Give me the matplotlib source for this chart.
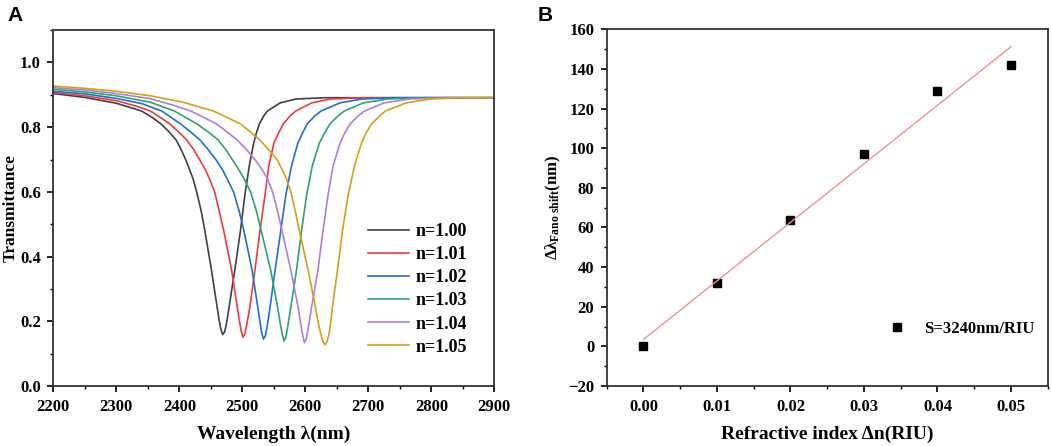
import numpy as np
import matplotlib
matplotlib.use("Agg")
import matplotlib.pyplot as plt
from matplotlib.ticker import MultipleLocator

plt.rcParams["font.family"] = ["Liberation Serif", "DejaVu Serif"]
plt.rcParams["font.weight"] = "bold"
plt.rcParams["mathtext.fontset"] = "custom"
plt.rcParams["mathtext.rm"] = "Liberation Serif:bold"
plt.rcParams["mathtext.it"] = "Liberation Serif:bold"
plt.rcParams["mathtext.bf"] = "Liberation Serif:bold"

# panel A: transmission spectra
lam_100 = [2200, 2250, 2300, 2340, 2357, 2371, 2384, 2395, 2403, 2410, 2416, 2421.8, 2427.5, 2434.8, 2440.5, 2451, 2460,
           2463, 2466, 2469, 2472, 2475,
           2479, 2488, 2497, 2504, 2511, 2518, 2522, 2527, 2534, 2540, 2560, 2585, 2630, 2900]
t_100 = [0.904, 0.892, 0.874, 0.85, 0.83, 0.81, 0.785, 0.76, 0.73, 0.70, 0.67, 0.64, 0.60, 0.54, 0.48, 0.358, 0.244,
         0.205, 0.175, 0.159, 0.168, 0.195,
         0.244, 0.358, 0.48, 0.59, 0.68, 0.75, 0.78, 0.81, 0.835, 0.85, 0.875, 0.887, 0.891, 0.891]

lam_101 = [2200, 2250, 2300, 2330, 2354, 2370, 2385, 2399, 2412, 2423, 2432, 2441, 2448, 2456, 2463.5, 2470.5, 2483, 2492,
           2495, 2498, 2501, 2504, 2507,
           2512, 2520, 2528, 2536, 2542, 2550, 2557, 2565, 2576, 2585, 2610, 2640, 2690, 2900]
t_101 = [0.907, 0.897, 0.882, 0.866, 0.85, 0.83, 0.81, 0.785, 0.76, 0.73, 0.70, 0.67, 0.64, 0.60, 0.54, 0.48, 0.358, 0.244,
         0.205, 0.172, 0.151, 0.16, 0.19,
         0.244, 0.358, 0.48, 0.59, 0.68, 0.75, 0.78, 0.81, 0.835, 0.85, 0.875, 0.887, 0.891, 0.891]

lam_102 = [2200, 2250, 2300, 2340, 2372, 2387, 2402, 2418, 2433, 2446, 2458, 2468, 2476, 2486, 2495, 2502.5, 2515.5, 2524.5,
           2527.5, 2530.5, 2533.5, 2536.5, 2539.5,
           2544, 2552, 2561, 2569, 2578, 2588, 2595, 2603, 2615, 2625, 2655, 2690, 2740, 2900]
t_102 = [0.911, 0.903, 0.889, 0.873, 0.85, 0.83, 0.81, 0.785, 0.76, 0.73, 0.70, 0.67, 0.64, 0.60, 0.54, 0.48, 0.358, 0.244,
         0.205, 0.167, 0.145, 0.155, 0.185,
         0.244, 0.358, 0.48, 0.59, 0.68, 0.75, 0.78, 0.81, 0.835, 0.85, 0.875, 0.887, 0.891, 0.891]

lam_103 = [2200, 2250, 2300, 2354, 2392, 2410, 2428, 2446, 2462, 2474, 2484, 2494, 2503, 2513, 2522.5, 2530, 2545, 2556,
           2560, 2563, 2566, 2569, 2572,
           2577, 2586, 2594, 2602, 2611, 2622, 2630, 2639, 2652, 2662, 2692, 2730, 2790, 2900]
t_103 = [0.917, 0.909, 0.897, 0.877, 0.85, 0.83, 0.81, 0.785, 0.76, 0.73, 0.70, 0.67, 0.64, 0.60, 0.54, 0.48, 0.358, 0.244,
         0.195, 0.165, 0.139, 0.15, 0.183,
         0.244, 0.358, 0.48, 0.59, 0.68, 0.75, 0.78, 0.81, 0.835, 0.85, 0.875, 0.887, 0.891, 0.891]

lam_104 = [2200, 2250, 2300, 2354, 2390, 2418, 2439, 2459, 2476, 2492, 2507, 2520, 2531, 2540, 2548, 2556, 2563, 2577, 2588.5,
           2592.5, 2595.5, 2598.5, 2601.5, 2604.5,
           2610, 2620, 2628, 2636, 2644, 2655, 2662, 2671, 2684, 2694, 2725, 2765, 2830, 2900]
t_104 = [0.922, 0.915, 0.904, 0.888, 0.868, 0.85, 0.83, 0.81, 0.785, 0.76, 0.73, 0.70, 0.67, 0.64, 0.60, 0.54, 0.48, 0.358, 0.244,
         0.195, 0.16, 0.134, 0.145, 0.178,
         0.244, 0.358, 0.48, 0.59, 0.68, 0.75, 0.78, 0.81, 0.835, 0.85, 0.875, 0.887, 0.891, 0.891]

lam_105 = [2200, 2250, 2300, 2354, 2406, 2454, 2476, 2497, 2513, 2528, 2542, 2555, 2563, 2570, 2577, 2584, 2590.5, 2604.5, 2616,
           2620, 2624, 2627.5, 2631, 2634.5, 2638, 2640.5,
           2643, 2651, 2659, 2668, 2678, 2689, 2696, 2705, 2718, 2727, 2760, 2798, 2850, 2900]
t_105 = [0.927, 0.920, 0.911, 0.897, 0.877, 0.85, 0.83, 0.81, 0.785, 0.76, 0.73, 0.70, 0.67, 0.64, 0.60, 0.54, 0.48, 0.358, 0.244,
         0.20, 0.165, 0.14, 0.127, 0.137, 0.165, 0.20,
         0.244, 0.358, 0.48, 0.59, 0.68, 0.75, 0.78, 0.81, 0.835, 0.85, 0.875, 0.887, 0.891, 0.891]

labels_a = ["n=1.00", "n=1.01", "n=1.02", "n=1.03", "n=1.04", "n=1.05"]
colors_a = ["#404040", "#f03a3a", "#1f6fd6", "#2ba56a", "#b07ce0", "#d4a015"]

# panel B: Fano shift vs refractive index change
dn = [0.00, 0.01, 0.02, 0.03, 0.04, 0.05]
shift = [0, 32, 64, 97, 129, 142]

fig = plt.figure(figsize=(10.52, 4.46), dpi=100)
ax1 = fig.add_axes([0.0507, 0.1345, 0.4192, 0.798])
ax2 = fig.add_axes([0.5767, 0.1345, 0.4192, 0.7998])

curves = [(lam_100, t_100), (lam_101, t_101), (lam_102, t_102),
          (lam_103, t_103), (lam_104, t_104), (lam_105, t_105)]
for (lam, t), lab, c in zip(curves, labels_a, colors_a):
    ax1.plot(lam, t, color=c, lw=1.2, label=lab, solid_joinstyle="round")

ax1.set_xlim(2200, 2900)
ax1.set_ylim(0, 1.1)
ax1.set_yticks([0.0, 0.2, 0.4, 0.6, 0.8, 1.0])
ax1.xaxis.set_major_locator(MultipleLocator(100))
ax1.xaxis.set_minor_locator(MultipleLocator(50))
ax1.yaxis.set_minor_locator(MultipleLocator(0.1))
ax1.set_xlabel("Wavelength λ(nm)", fontsize=14, fontweight="bold", labelpad=8)
ax1.set_ylabel("Transmittance", fontsize=12.5, fontweight="bold")
ax1.yaxis.set_label_coords(-0.078, 0.5)
ax1.legend(loc="lower right", bbox_to_anchor=(0.955, 0.065), frameon=False, fontsize=13,
           handlelength=2.3, handletextpad=0.35, labelspacing=0.34, borderaxespad=0)

ax2.plot(dn, shift, "s", color="black", ms=5.3, label="S=3240nm/RIU")
coef = np.polyfit(dn, shift, 1)
ax2.plot(dn, np.polyval(coef, dn), color="#f09090", lw=1.0)
ax2.set_xlim(-0.005, 0.055)
ax2.set_ylim(-20, 160)
ax2.set_xticks(dn)
ax2.xaxis.set_major_formatter(plt.FuncFormatter(lambda v, p: f"{v:.2f}"))
ax2.xaxis.set_minor_locator(MultipleLocator(0.005))
ax2.yaxis.set_major_locator(MultipleLocator(20))
ax2.yaxis.set_minor_locator(MultipleLocator(10))
ax2.set_xlabel("Refractive index Δn(RIU)", fontsize=14, fontweight="bold", labelpad=8)
ax2.set_ylabel("Δλ$_{\\mathrm{Fano\\ shift}}$(nm)", fontsize=12, fontweight="bold", labelpad=4)
ax2.legend(loc="lower right", bbox_to_anchor=(0.985, 0.12), frameon=False, fontsize=12,
           handletextpad=0.6, borderaxespad=0)

for ax in (ax1, ax2):
    ax.tick_params(which="major", direction="out", length=4, width=1.2, labelsize=12,
                   top=False, right=False, pad=5)
    ax.tick_params(which="minor", direction="out", length=2.5, width=1.0, top=False, right=False)
    for lbl in ax.get_xticklabels() + ax.get_yticklabels():
        lbl.set_fontweight("bold")
    for sp in ax.spines.values():
        sp.set_linewidth(1.3)
        sp.set_color("#333333")

fig.text(0.007, 0.965, "A", fontsize=15, fontweight="bold", family="Liberation Sans", va="center")
fig.text(0.511, 0.965, "B", fontsize=15, fontweight="bold", family="Liberation Sans", va="center")

fig.savefig("out.png", dpi=100)
